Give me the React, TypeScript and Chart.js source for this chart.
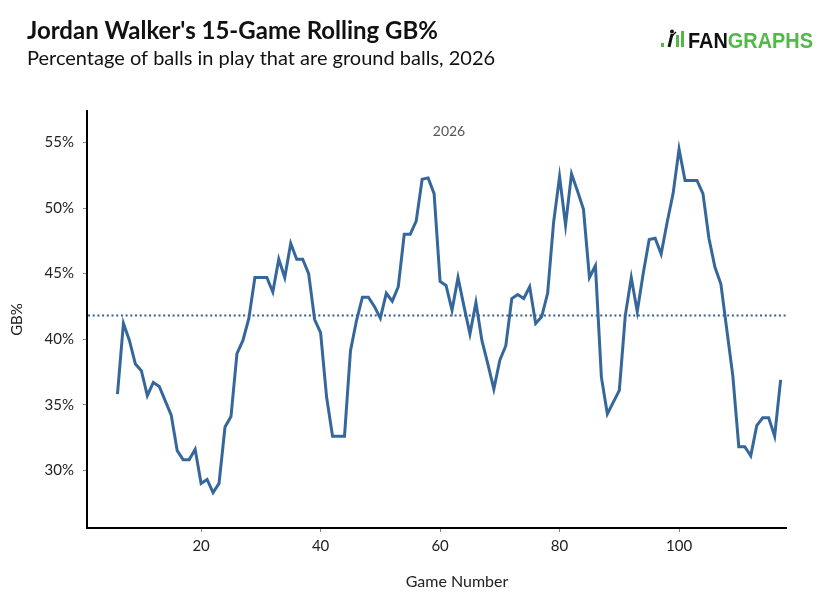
import { useEffect, useRef } from "react"
import { Chart, registerables } from "chart.js"

Chart.register(...registerables)

const chartTitle = "Jordan Walker's 15-Game Rolling GB%"
const chartSubtitle = "Percentage of balls in play that are ground balls, 2026"
const seasonLabel = "2026"
const xAxisTitle = "Game Number"
const yAxisTitle = "GB%"

// rolling GB% for games 6..117
const firstGame = 6
const gbPct = [
  35.8, 41.2, 39.9, 38.1, 37.6, 35.7, 36.7, 36.4, 35.3, 34.2,
  31.5, 30.8, 30.8, 31.6, 29.0, 29.3, 28.3, 29.0, 33.3, 34.1,
  38.9, 39.9, 41.6, 44.7, 44.7, 44.7, 43.6, 46.1, 44.7, 47.3,
  46.1, 46.1, 45.0, 41.5, 40.5, 35.6, 32.6, 32.6, 32.6, 39.1,
  41.4, 43.2, 43.2, 42.5, 41.6, 43.5, 42.9, 44.0, 48.0, 48.0,
  49.0, 52.2, 52.3, 51.1, 44.4, 44.1, 42.2, 44.7, 42.5, 40.4,
  42.8, 39.9, 38.1, 36.2, 38.4, 39.5, 43.1, 43.4, 43.1, 44.0,
  41.2, 41.7, 43.5, 48.9, 52.4, 48.7, 52.6, 51.3, 49.9, 44.7,
  45.6, 37.1, 34.3, 35.2, 36.1, 41.8, 44.7, 42.1, 45.0, 47.6,
  47.7, 46.5, 48.9, 51.1, 54.5, 52.1, 52.1, 52.1, 51.1, 47.7,
  45.5, 44.2, 40.7, 37.2, 31.8, 31.8, 31.1, 33.4, 34.0, 34.0,
  32.6, 36.9,
]
const leagueAvg = 41.8

const xTicks = [20, 40, 60, 80, 100]
const yTicks = [30, 35, 40, 45, 50, 55]

const lineColor = "#36679a"
const textColor = "#222222"

const decorations = {
  id: "decorations",
  beforeDatasetsDraw(chart: Chart) {
    const { ctx, chartArea, scales } = chart
    const y = scales.y.getPixelForValue(leagueAvg)
    ctx.save()
    ctx.strokeStyle = "#2f5f8f"
    ctx.lineWidth = 2
    ctx.setLineDash([2, 2.7])
    ctx.beginPath()
    ctx.moveTo(chartArea.left + 1, y)
    ctx.lineTo(chartArea.right, y)
    ctx.stroke()
    ctx.restore()
  },
  afterDraw(chart: Chart) {
    const { ctx, chartArea } = chart
    ctx.save()
    ctx.textBaseline = "alphabetic"

    // title + subtitle
    ctx.fillStyle = "#111111"
    ctx.textAlign = "left"
    ctx.font = "bold 24px Lato"
    ctx.fillText(chartTitle, 27, 39)
    ctx.font = "20px Lato"
    ctx.fillText(chartSubtitle, 27, 65)

    // season label inside the panel
    ctx.fillStyle = "#555555"
    ctx.textAlign = "center"
    ctx.font = "14px Lato"
    ctx.fillText(seasonLabel, 449, 136)

    // axis titles
    ctx.fillStyle = textColor
    ctx.font = "16px Lato"
    ctx.fillText(xAxisTitle, 457, 587)
    ctx.save()
    ctx.translate(22, (chartArea.top + chartArea.bottom) / 2)
    ctx.rotate(-Math.PI / 2)
    ctx.font = "15px Lato"
    ctx.fillText(yAxisTitle, 0, 0)
    ctx.restore()

    // FanGraphs logo
    const green = "#52b848"
    ctx.fillStyle = green
    ctx.fillRect(661, 43, 3, 4)
    ctx.fillRect(676, 35, 3, 12)
    ctx.fillRect(681, 31, 3, 16)
    ctx.fillStyle = "#111111"
    ctx.beginPath()
    ctx.arc(672, 31.5, 2, 0, Math.PI * 2)
    ctx.fill()
    ctx.strokeStyle = "#111111"
    ctx.lineWidth = 3
    ctx.beginPath()
    ctx.moveTo(672, 34)
    ctx.lineTo(669, 47)
    ctx.stroke()
    ctx.lineWidth = 1.5
    ctx.beginPath()
    ctx.moveTo(671, 37)
    ctx.lineTo(676, 32)
    ctx.stroke()

    ctx.font = "bold 21px 'Liberation Sans', Arial, sans-serif"
    ctx.textAlign = "left"
    const fan = "FAN"
    const graphs = "GRAPHS"
    const total = ctx.measureText(fan + graphs).width
    const targetW = 125
    ctx.translate(688, 47.5)
    ctx.scale(targetW / total, 1.08)
    ctx.fillStyle = "#111111"
    ctx.fillText(fan, 0, 0)
    ctx.fillStyle = green
    ctx.fillText(graphs, ctx.measureText(fan).width, 0)
    ctx.restore()
  },
}

export default function App() {
  const canvasRef = useRef<HTMLCanvasElement>(null)
  const chartRef = useRef<Chart | null>(null)

  useEffect(() => {
    document.body.style.margin = "0"
    if (!canvasRef.current) return
    if (chartRef.current) chartRef.current.destroy()

    const points = gbPct.map((v, i) => ({ x: firstGame + i, y: v }))

    chartRef.current = new Chart(canvasRef.current, {
      type: "line",
      data: {
        datasets: [
          {
            data: points,
            borderColor: lineColor,
            borderWidth: 3,
            pointRadius: 0,
            tension: 0,
            fill: false,
          },
        ],
      },
      options: {
        responsive: false,
        animation: false,
        devicePixelRatio: 1,
        layout: { padding: { top: 111, right: 49, left: 0, bottom: 0 } },
        plugins: {
          legend: { display: false },
          tooltip: { enabled: false },
        },
        scales: {
          x: {
            type: "linear",
            min: 0.9,
            max: 117.9,
            afterFit: (scale) => {
              scale.height = 76
            },
            afterBuildTicks: (scale) => {
              scale.ticks = xTicks.map((v) => ({ value: v }))
            },
            grid: { drawOnChartArea: false, drawTicks: true, tickLength: 4, color: "#888888" },
            border: { color: "#000000", width: 2 },
            ticks: {
              color: textColor,
              font: { family: "Lato", size: 15 },
              padding: 5,
              maxRotation: 0,
            },
          },
          y: {
            min: 25.6,
            max: 57.4,
            afterFit: (scale) => {
              scale.width = 87
            },
            afterBuildTicks: (scale) => {
              scale.ticks = yTicks.map((v) => ({ value: v }))
            },
            grid: { drawOnChartArea: false, drawTicks: true, tickLength: 4, color: "#888888" },
            border: { color: "#000000", width: 2 },
            ticks: {
              color: textColor,
              font: { family: "Lato", size: 15 },
              padding: 9,
              callback: (v) => `${v}%`,
            },
          },
        },
      },
      plugins: [decorations],
    })

    return () => {
      if (chartRef.current) {
        chartRef.current.destroy()
        chartRef.current = null
      }
    }
  }, [])

  return (
    <div style={{ width: 835, height: 604, background: "#ffffff" }}>
      <canvas ref={canvasRef} width={835} height={604} />
    </div>
  )
}
